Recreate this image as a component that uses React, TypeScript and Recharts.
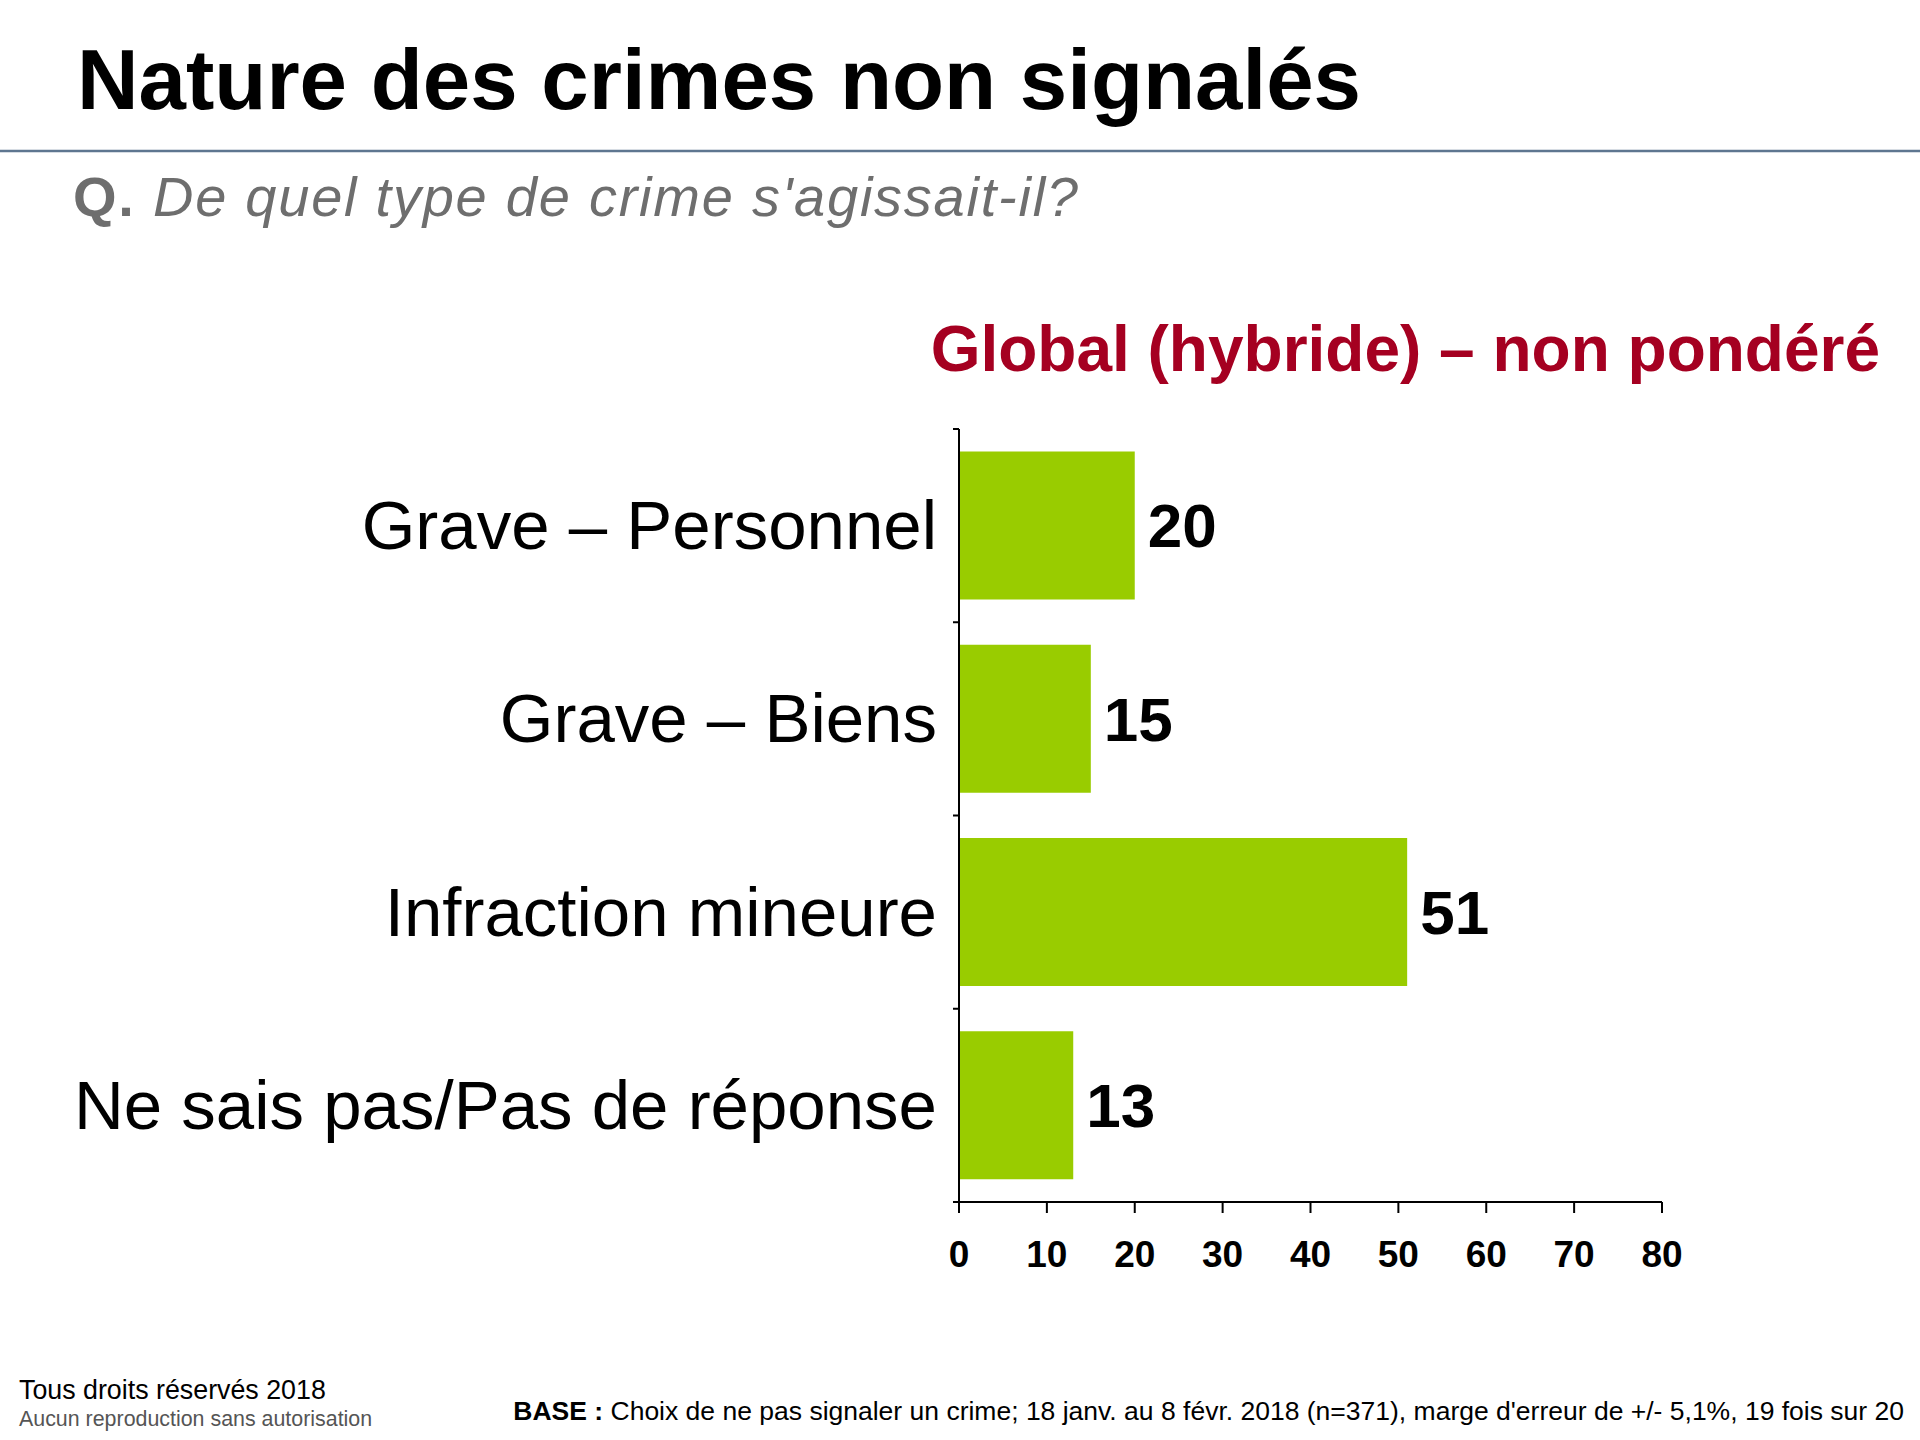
import React from 'react';
import { BarChart, Bar, XAxis, YAxis, LabelList } from 'recharts';

const categories = [
  'Grave – Personnel',
  'Grave – Biens',
  'Infraction mineure',
  'Ne sais pas/Pas de réponse',
];
const values = [20, 15, 51, 13];
const xTicks = [0, 10, 20, 30, 40, 50, 60, 70, 80];

const data = categories.map((category, i) => ({ category, value: values[i] }));

const FONT = '"Liberation Sans", Arial, sans-serif';
const Y_TICK_SIZE = 6;
const Y_TICK_MARGIN = 16;

const CategoryTick = (props: any) => {
  const { x, y, payload, index } = props;
  const off = payload?.offset ?? 0;
  const axisX = x + Y_TICK_MARGIN + Y_TICK_SIZE;
  return (
    <g>
      <text
        x={x}
        y={y}
        textAnchor="end"
        dominantBaseline="central"
        fontSize={69}
        fontFamily={FONT}
        fill="#000"
      >
        {payload.value}
      </text>
      <line x1={axisX - Y_TICK_SIZE} x2={axisX} y1={y - off} y2={y - off} stroke="#000" strokeWidth={2} />
      {index === categories.length - 1 && (
        <line x1={axisX - Y_TICK_SIZE} x2={axisX} y1={y + off} y2={y + off} stroke="#000" strokeWidth={2} />
      )}
    </g>
  );
};

const App = () => {
  return (
    <div style={{ position: 'absolute', left: 0, top: 0, width: 1920, height: 1440, background: '#fff' }}>
      <BarChart
        width={1920}
        height={1440}
        data={data}
        layout="vertical"
        barCategoryGap="11.6%"
        margin={{ top: 429, right: 258, left: 0, bottom: 158 }}
      >
        <XAxis
          type="number"
          domain={[0, 80]}
          ticks={xTicks}
          interval={0}
          height={80}
          tickSize={11}
          tickMargin={28}
          axisLine={{ stroke: '#000', strokeWidth: 2 }}
          tickLine={{ stroke: '#000', strokeWidth: 2 }}
          tick={{ fontSize: 37, fontWeight: 'bold', fill: '#000', fontFamily: FONT }}
        />
        <YAxis
          type="category"
          dataKey="category"
          width={959}
          tickSize={Y_TICK_SIZE}
          tickMargin={Y_TICK_MARGIN}
          tickLine={false}
          interval={0}
          axisLine={{ stroke: '#000', strokeWidth: 2 }}
          tick={<CategoryTick />}
        />
        <Bar dataKey="value" fill="#99cc00" isAnimationActive={false}>
          <LabelList
            dataKey="value"
            position="right"
            offset={13}
            fill="#000"
            fontSize={62}
            fontWeight="bold"
            fontFamily={FONT}
          />
        </Bar>
      </BarChart>
      <svg
        width={1920}
        height={1440}
        style={{ position: 'absolute', left: 0, top: 0, pointerEvents: 'none' }}
        fontFamily={FONT}
      >
        <text x={77} y={109} fontSize={85} fontWeight="bold" fill="#000" textLength={1284} lengthAdjust="spacingAndGlyphs">
          Nature des crimes non signalés
        </text>
        <line x1={0} x2={1920} y1={151} y2={151} stroke="#5e7690" strokeWidth={2.5} />
        <text x={73} y={216} fontSize={56} fill="#6e6e6e" textLength={1005} lengthAdjust="spacing">
          <tspan fontWeight="bold">Q.</tspan>
          <tspan fontStyle="italic"> De quel type de crime s'agissait-il?</tspan>
        </text>
        <text x={1880} y={371} fontSize={64} fontWeight="bold" fill="#a50021" textAnchor="end">
          Global (hybride) – non pondéré
        </text>
        <text x={19} y={1399} fontSize={26.8} fill="#000">
          Tous droits réservés 2018
        </text>
        <text x={19} y={1426} fontSize={21.4} fill="#555">
          Aucun reproduction sans autorisation
        </text>
        <text x={1904} y={1420} fontSize={26.5} fill="#000" textAnchor="end">
          <tspan fontWeight="bold">BASE :</tspan>
          <tspan> Choix de ne pas signaler un crime; 18 janv. au 8 févr. 2018 (n=371), marge d'erreur de +/- 5,1%, 19 fois sur 20</tspan>
        </text>
      </svg>
    </div>
  );
};

export default App;
